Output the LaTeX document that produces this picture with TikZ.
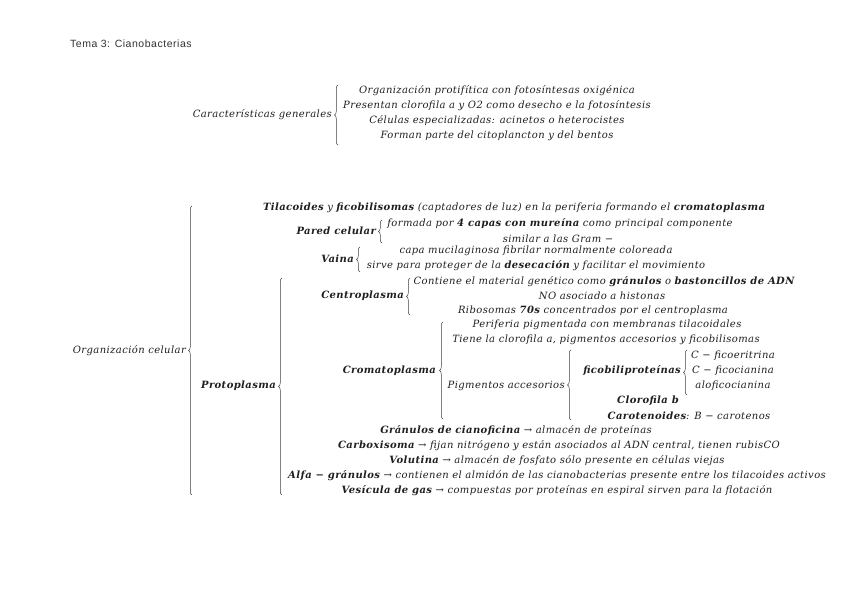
\documentclass[tikz,border=0pt]{standalone}
\usepackage{fontspec}
\setmainfont{DejaVu Serif}[LetterSpace=4]
\newfontfamily\titlefont{Liberation Sans}[LetterSpace=5]
\usetikzlibrary{decorations.pathreplacing,positioning}

\tikzset{
  txt/.style={inner sep=0pt, text=black!88, font=\itshape\fontsize{10}{15}\selectfont},
  brc/.style={decorate, decoration={brace, amplitude=3.5pt}, line width=0.5pt, black!75},
}

\begin{document}
\begin{tikzpicture}[x=1pt,y=-1pt]
    \useasboundingbox[fill=white] (0,0) rectangle (848,599);
    % title
    \node[anchor=west, inner sep=0pt, text=black!80, font=\titlefont\fontsize{10.5}{12}\selectfont] (tema) at (70,44) {Tema 3: Cianobacterias};

    % Caracteristicas generales
    \node[txt, anchor=east] (cg) at (332,115) {Características generales};
    \draw[brc] (338,145) -- (338,85);
    \foreach \t [count=\i from 0] in {Organización protifítica con fotosíntesas oxigénica,
        Presentan clorofila a y O2 como desecho e la fotosíntesis,
        Células especializadas: acinetos o heterocistes,
        Forman parte del citoplancton y del bentos}
      \node[txt] (cg\i) at (497,91+15*\i) {\t};

    % Organizacion celular
    \node[txt, anchor=east] (oc) at (186,351) {Organización celular};
    \draw[brc] (192,495) -- (192,206);
    \node[txt] (til) at (514,208) {\textbf{Tilacoides} y \textbf{ficobilisomas} (captadores de luz) en la periferia formando el \textbf{cromatoplasma}};

    % Pared celular
    \node[txt, anchor=east] (pared) at (376,231) {\textbf{Pared celular}};
    \draw[brc] (382,243) -- (382,220);
    \node[txt] (pared1) at (560,224) {formada por \textbf{4 capas con mureína} como principal componente};
    \node[txt] (pared2) at (558,239) {similar a las Gram −};

    % Vaina
    \node[txt, anchor=east] (vaina) at (354,259) {\textbf{Vaina}};
    \draw[brc] (360,272) -- (360,247);
    \node[txt] (vaina1) at (536,251) {capa mucilaginosa fibrilar normalmente coloreada};
    \node[txt] (vaina2) at (536,266) {sirve para proteger de la \textbf{desecación} y facilitar el movimiento};

    % Protoplasma
    \node[txt, anchor=east] (proto) at (276,386) {\textbf{Protoplasma}};
    \draw[brc] (282,495) -- (282,278);

    % Centroplasma
    \node[txt, anchor=east] (centro) at (404,296) {\textbf{Centroplasma}};
    \draw[brc] (410,315) -- (410,278);
    \node[txt] (centro1) at (604,282) {Contiene el material genético como \textbf{gránulos} o \textbf{bastoncillos de ADN}};
    \node[txt] (centro2) at (602,296) {NO asociado a histonas};
    \node[txt] (centro3) at (593,311) {Ribosomas \textbf{70s} concentrados por el centroplasma};

    % Cromatoplasma
    \node[txt, anchor=east] (croma) at (436,371) {\textbf{Cromatoplasma}};
    \draw[brc] (443,419) -- (443,322);
    \node[txt] (croma1) at (607,325) {Periferia pigmentada con membranas tilacoidales};
    \node[txt] (croma2) at (606,340) {Tiene la clorofila a, pigmentos accesorios y ficobilisomas};
    \node[txt, anchor=east] (pigm) at (565,386) {Pigmentos accesorios};
    \draw[brc] (571,420) -- (571,350);
    \node[txt, anchor=east] (ficob) at (681,371) {\textbf{ficobiliproteínas}};
    \draw[brc] (687,395) -- (687,350);
    \foreach \t/\y [count=\i] in {C − ficoeritrina/356, C − ficocianina/371, aloficocianina/386}
      \node[txt] (fic\i) at (733,\y) {\t};
    \node[txt] (clorob) at (648,401) {\textbf{Clorofila b}};
    \node[txt] (carot) at (689,416) {\textbf{Carotenoides}: B − carotenos};

    % Inclusiones
    \foreach \t/\x/\y [count=\i] in {
        {\textbf{Gránulos de cianoficina} → almacén de proteínas}/516/431,
        {\textbf{Carboxisoma} → fijan nitrógeno y están asociados al ADN central, tienen rubisCO}/559/446,
        {\textbf{Volutina} → almacén de fosfato sólo presente en células viejas}/557/461,
        {\textbf{Alfa − gránulos} → contienen el almidón de las cianobacterias presente entre los tilacoides activos}/557/476,
        {\textbf{Vesícula de gas} → compuestas por proteínas en espiral sirven para la flotación}/557/491}
      \node[txt] (inc\i) at (\x,\y) {\t};
\end{tikzpicture}
\end{document}
